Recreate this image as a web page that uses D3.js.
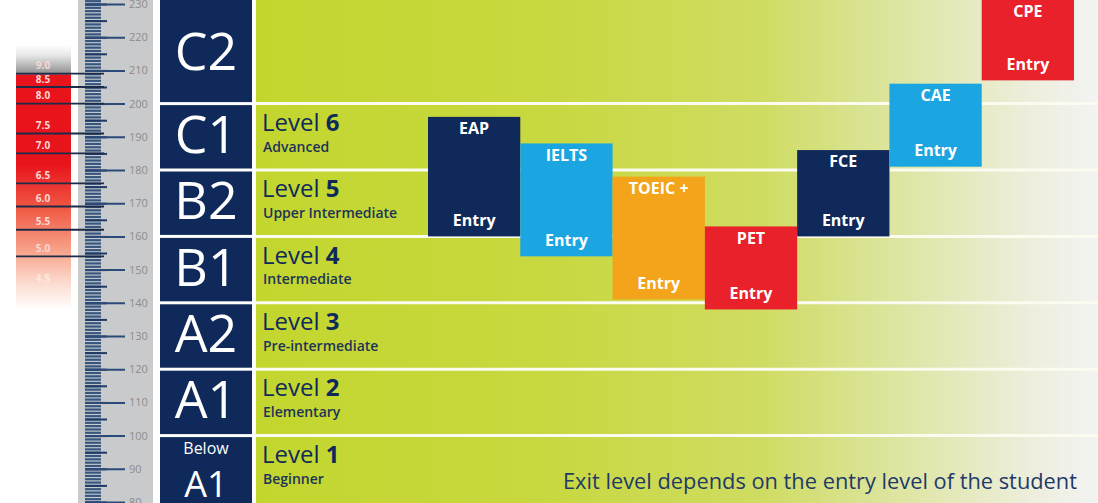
<!DOCTYPE html>
<html>
<head>
<meta charset="utf-8">
<script src="https://cdn.jsdelivr.net/npm/d3@7"></script>
<style>
  html, body { margin: 0; padding: 0; background: #fff; }
  svg { display: block; font-family: "Open Sans", "Noto Sans", sans-serif; }
</style>
</head>
<body>
<div id="chart"></div>
<script>
// CEFR rows (on the ruler scale)
var cefrLevels = ["C2", "C1", "B2", "B1", "A2", "A1", "Below A1"];
var cefrLow    = [200, 180, 160, 140, 120, 100, 78];
var cefrHigh   = [233, 200, 180, 160, 140, 120, 100];

// school levels, one for each row from C1 down
var levelNums  = ["", "6", "5", "4", "3", "2", "1"];
var levelNames = ["", "Advanced", "Upper Intermediate", "Intermediate", "Pre-intermediate", "Elementary", "Beginner"];

// exams: entry (low) and top (high) on the ruler
var exams      = ["EAP", "IELTS", "TOEIC +", "PET", "FCE", "CAE", "CPE"];
var examLow    = [160, 154, 141, 138, 160, 181, 207];
var examHigh   = [196, 188, 178, 163, 186, 206, 233];
var examColors = ["#0f2a5a", "#1ba6e2", "#f3a41b", "#e8212a", "#0f2a5a", "#1ba6e2", "#e8212a"];

// IELTS band column on the left
var ieltsBands = ["9.0", "8.5", "8.0", "7.5", "7.0", "6.5", "6.0", "5.5", "5.0", "4.5"];
var ieltsScore = [209, 205, 200, 191, 185, 176, 169, 162, 154, 145];

var footNote = "Exit level depends on the entry level of the student";

var width = 1098, height = 503;
var navy = "#0f2a5a";

var svg = d3.select("#chart").append("svg")
    .attr("width", width)
    .attr("height", height);

var y = d3.scaleLinear().domain([80, 230]).range([502, 4]);
var x = d3.scaleBand().domain(exams).range([428, 1074]);

var defs = svg.append("defs");

// green background fading to grey on the right
var gGreen = defs.append("linearGradient").attr("id", "green")
    .attr("x1", "0%").attr("x2", "100%").attr("y1", "0%").attr("y2", "0%");
[[0, "#c3d62e"], [0.35, "#c8d840"], [0.6, "#cfdc62"], [0.78, "#dfe6a8"], [0.92, "#edeedc"], [1, "#f3f3f3"]]
  .forEach(function(s) { gGreen.append("stop").attr("offset", s[0]).attr("stop-color", s[1]); });

// IELTS column: grey on top, red, then fading out
var gRed = defs.append("linearGradient").attr("id", "red")
    .attr("gradientUnits", "userSpaceOnUse")
    .attr("x1", 0).attr("x2", 0).attr("y1", 45).attr("y2", 310);
[[0, "#ffffff"], [0.04, "#e6e6e6"], [0.11, "#8e8e8e"], [0.113, "#e8131b"], [0.45, "#e8141c"],
 [0.62, "#f05a45"], [0.78, "#f7a58c"], [0.9, "#fcdcd0"], [1, "#ffffff"]]
  .forEach(function(s) { gRed.append("stop").attr("offset", s[0]).attr("stop-color", s[1]); });

svg.append("rect")
    .attr("x", 256).attr("y", 0)
    .attr("width", width - 256).attr("height", height)
    .attr("fill", "url(#green)");

// row separators
svg.append("g").selectAll("line")
  .data(cefrLow.slice(0, 6))
  .join("line")
    .attr("x1", 256).attr("x2", width)
    .attr("y1", function(d) { return y(d); })
    .attr("y2", function(d) { return y(d); })
    .attr("stroke", "#fbfbef").attr("stroke-width", 3);

// ruler panel
svg.append("rect")
    .attr("x", 78).attr("y", 0)
    .attr("width", 75).attr("height", height)
    .attr("fill", "#c9cacc");

var minor = d3.axisRight(y).tickValues(d3.range(79, 232)).tickSize(16).tickFormat("");
var mid = d3.axisRight(y).tickValues(d3.range(80, 231, 5)).tickSize(22).tickFormat("");
var major = d3.axisRight(y).tickValues(d3.range(80, 231, 10)).tickSize(40).tickPadding(4);

var gMinor = svg.append("g").attr("transform", "translate(85,0)").call(minor);
gMinor.selectAll("line").attr("stroke", "#35567f").attr("stroke-width", 2.2);
var gMid = svg.append("g").attr("transform", "translate(85,0)").call(mid);
gMid.selectAll("line").attr("stroke", "#1f3a66").attr("stroke-width", 2);
var gMajor = svg.append("g").attr("transform", "translate(85,0)").call(major);
gMajor.selectAll("line").attr("stroke", "#2b4a78").attr("stroke-width", 2);
gMajor.selectAll("text")
    .attr("fill", "#8c8c8c")
    .style("font-size", "11px")
    .style("font-family", "\"Open Sans\", sans-serif");
svg.selectAll(".domain").remove();

// IELTS band column
svg.append("rect")
    .attr("x", 16).attr("y", 45)
    .attr("width", 55).attr("height", 265)
    .attr("fill", "url(#red)");

svg.append("g").selectAll("line")
  .data(ieltsScore.slice(0, 9))
  .join("line")
    .attr("x1", 16).attr("x2", 104)
    .attr("y1", function(d) { return y(d); })
    .attr("y2", function(d) { return y(d); })
    .attr("stroke", "#1c2b48").attr("stroke-width", 1.8);

svg.append("g").selectAll("text")
  .data(ieltsBands)
  .join("text")
    .attr("x", 43)
    .attr("y", function(d, i) { return y(ieltsScore[i]) - 7; })
    .attr("text-anchor", "middle")
    .attr("dominant-baseline", "middle")
    .attr("fill", function(d, i) { return i === 9 ? "#fbe9e4" : "#f8d8d4"; })
    .style("font-size", "10px")
    .style("font-weight", "bold")
    .text(function(d) { return d; });

// CEFR boxes
var cefr = svg.append("g").selectAll("g")
  .data(cefrLevels)
  .join("g");

cefr.append("rect")
    .attr("x", 160)
    .attr("width", 92)
    .attr("y", function(d, i) { return y(cefrHigh[i]) + 1.5; })
    .attr("height", function(d, i) { return y(cefrLow[i]) - y(cefrHigh[i]) - 3; })
    .attr("fill", navy);

cefr.filter(function(d) { return d.indexOf("Below") < 0; })
  .append("text")
    .attr("x", 206)
    .attr("y", function(d) {
      var j = cefrLevels.indexOf(d);
      return (y(Math.min(cefrHigh[j], 230)) + y(cefrLow[j])) / 2 + 2;
    })
    .attr("text-anchor", "middle")
    .attr("dominant-baseline", "middle")
    .attr("fill", "#fff")
    .style("font-size", "52px")
    .text(function(d) { return d; });

var below = cefr.filter(function(d) { return d.indexOf("Below") === 0; });
below.append("text")
    .attr("x", 206)
    .attr("y", function() { return y(100) + 14; })
    .attr("text-anchor", "middle")
    .attr("dominant-baseline", "middle")
    .attr("fill", "#fff")
    .style("font-size", "16px")
    .text("Below");
below.append("text")
    .attr("x", 206)
    .attr("y", function() { return y(100) + 52; })
    .attr("text-anchor", "middle")
    .attr("dominant-baseline", "middle")
    .attr("fill", "#fff")
    .style("font-size", "36px")
    .text("A1");

// level labels
var lvl = svg.append("g").selectAll("g")
  .data(levelNums)
  .join("g")
  .filter(function(d) { return d !== ""; });

function rowMid(d) {
  var i = levelNums.indexOf(d);
  return (y(cefrHigh[i]) + y(Math.max(cefrLow[i], 80))) / 2;
}

var lvlText = lvl.append("text")
    .attr("x", 262)
    .attr("y", function(d) { return rowMid(d) - 12; })
    .attr("dominant-baseline", "middle")
    .attr("fill", navy)
    .style("font-size", "24px");
lvlText.append("tspan").text("Level ");
lvlText.append("tspan").style("font-weight", "bold").text(function(d) { return d; });

lvl.append("text")
    .attr("x", 263)
    .attr("y", function(d) { return rowMid(d) + 11; })
    .attr("dominant-baseline", "middle")
    .attr("fill", "#1d3358")
    .style("font-size", "14px")
    .style("font-weight", "600")
    .text(function(d) { return levelNames[levelNums.indexOf(d)]; });

// exam boxes
var ex = svg.append("g").selectAll("g")
  .data(exams)
  .join("g");

ex.append("rect")
    .attr("x", function(d) { return x(d); })
    .attr("width", x.bandwidth())
    .attr("y", function(d, i) { return y(examHigh[i]); })
    .attr("height", function(d, i) { return y(examLow[i]) - y(examHigh[i]); })
    .attr("fill", function(d, i) { return examColors[i]; });

ex.append("text")
    .attr("x", function(d) { return x(d) + x.bandwidth() / 2; })
    .attr("y", function(d, i) { return Math.max(y(examHigh[i]), 0) + 13; })
    .attr("text-anchor", "middle")
    .attr("dominant-baseline", "middle")
    .attr("fill", "#fff")
    .style("font-size", "16px")
    .style("font-weight", "bold")
    .text(function(d) { return d; });

ex.append("text")
    .attr("x", function(d) { return x(d) + x.bandwidth() / 2; })
    .attr("y", function(d, i) { return y(examLow[i]) - 15; })
    .attr("text-anchor", "middle")
    .attr("dominant-baseline", "middle")
    .attr("fill", "#fff")
    .style("font-size", "16px")
    .style("font-weight", "bold")
    .text("Entry");

// footnote
svg.append("text")
    .attr("x", 563)
    .attr("y", 489)
    .attr("textLength", 514)
    .attr("lengthAdjust", "spacingAndGlyphs")
    .attr("fill", "#1f3a68")
    .style("font-size", "21px")
    .text(footNote);
</script>
</body>
</html>
